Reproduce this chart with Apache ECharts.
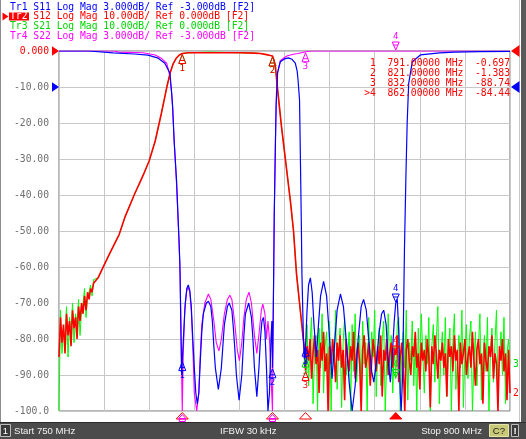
<!DOCTYPE html>
<html><head><meta charset="utf-8">
<script src="https://cdn.jsdelivr.net/npm/echarts/dist/echarts.min.js"></script>
<style>html,body{margin:0;padding:0;background:#fff;}#c{width:526px;height:439px;}</style>
</head><body><div id="c"></div>
<script>
// ---------- DATA ----------
function range(a, b, s) { const r = []; for (let v = a; v <= b + 1e-9; v += s) r.push(+v.toFixed(3)); return r; }

const startMHz = 750, stopMHz = 900;
const yTickLabels = ['0.000','-10.00','-20.00','-30.00','-40.00','-50.00','-60.00','-70.00','-80.00','-90.00','-100.0'];

const traceHeaders = [
  'Tr1 S11 Log Mag 3.000dB/ Ref -3.000dB [F2]',
  'Tr2 S12 Log Mag 10.00dB/ Ref 0.000dB [F2]',
  'Tr3 S21 Log Mag 10.00dB/ Ref 0.000dB [F2]',
  'Tr4 S22 Log Mag 3.000dB/ Ref -3.000dB [F2]'
];

const markerFreqs = [791, 821, 832, 862];
const markerReadouts = [-0.697, -1.383, -88.74, -84.44];
const activeMarker = 3;

// S12 / S21 sweep frequencies (MHz)
const transFreqs = [
  ...range(750, 762, 0.5),
  763,765,767,770,772,775,778,780,782,784,785,786,787,788,789,790,791,793,800,810,
  815,817,819,820,821,821.5,822,822.5,823,824,825,826,827,828,829,830,830.5,831,831.5,
  ...range(832, 900, 0.5)
];

// S12 (dB)
const s12Values = [
  -85,-74,-81,-76,-84,-73,-79,-75,-82,-72,-77,-74,-80,-71,-75,-70,-73,-68,-72,-67,-69,-66,-67,-64.5,-64,
  -63,-59.5,-56,-51,-46,-40,-34.5,-30.5,-25,-17.5,-13.5,-9.5,-6,-3.5,-2,-1.1,-0.697,-0.5,-0.5,-0.5,
  -0.6,-0.7,-1.0,-1.2,-1.383,-2.5,-4.5,-9,-13,-21,-28,-35,-42,-50,-62,-70,-74,-78,-82,
  -88.74,-82,-86,-80,-91,-84,-79,-87,-83,-95,
  -81,-86,-78,-89,-84,-100,-82,-87,-80,-85,
  -92,-81,-86,-79,-88,-83,-97,-80,-85,-89,
  -82,-86,-78,-91,-84,-81,-87,-100,-83,-79,
  -88,-85,-81,-93,-86,-80,-84,-89,-82,-87,
  -79,-96,-83,-86,-80,-90,-84,-81,-88,-83,
  -84.44,-79,-92,-85,-81,-87,-100,-83,-80,-86,
  -90,-82,-85,-78,-88,-84,-94,-81,-86,-83,
  -89,-80,-85,-99,-82,-87,-79,-84,-91,-83,
  -86,-81,-88,-84,-96,-80,-85,-82,-89,-79,
  -86,-83,-100,-81,-87,-84,-80,-90,-85,-82,
  -88,-78,-86,-93,-83,-80,-87,-84,-98,-81,
  -86,-89,-82,-85,-79,-91,-84,-87,-100,-82,
  -86,-80,-89,-84,-97,-83,-95
];

// S21 (dB)
const s21Values = [
  -100,-72,-84,-77,-80,-71,-85,-74,-78,-70,-81,-73,-76,-69,-79,-72,-70,-66,-74,-68,-67,-65,-68,-63.5,-64,
  -63,-59.5,-56,-51,-46,-40,-34.5,-30.5,-25,-17.5,-13.5,-9.5,-6,-3.5,-2,-1.1,-0.7,-0.5,-0.3,-0.5,
  -0.6,-0.7,-1.0,-1.2,-1.4,-2.5,-4.5,-9,-13,-21,-28,-35,-42,-50,-62,-70,-74,-78,-82,
  -85,-76,-93,-81,-74,-98,-84,-79,-100,-77,
  -88,-73,-95,-82,-78,-91,-75,-100,-80,-86,
  -72,-94,-83,-77,-99,-81,-74,-90,-85,-78,
  -100,-76,-89,-73,-92,-84,-79,-97,-75,-87,
  -81,-100,-74,-90,-78,-85,-72,-96,-83,-77,
  -93,-80,-75,-100,-86,-73,-89,-79,-95,-82,
  -91,-76,-74,-100,-84,-78,-88,-72,-97,-81,
  -86,-75,-93,-80,-100,-77,-89,-73,-84,-95,
  -79,-87,-74,-100,-82,-76,-92,-80,-71,-98,
  -85,-78,-90,-74,-96,-83,-77,-100,-81,-73,
  -94,-86,-79,-88,-72,-99,-84,-76,-91,-80,
  -75,-100,-87,-78,-93,-82,-73,-97,-85,-79,
  -89,-74,-100,-83,-77,-92,-81,-72,-95,-86,
  -78,-90,-74,-98,-84,-80,-87
];

// S11 [MHz, dB]
const s11Points = [
  [750,0],[760,0],[768,-0.15],[775,-0.25],[779.6,-0.35],[783,-0.6],[785.2,-1.02],[786.9,-1.86],
  [787.5,-3.6],[787.8,-4.65],[788.3,-7.5],[789.1,-10.8],[789.5,-13.2],[789.9,-15.6],[790.2,-17.7],
  [790.5,-22.5],[790.8,-27],[791,-25.8],[791.5,-23.4],[792,-21],[792.5,-19.8],[793,-19.5],[793.5,-19.95],
  [794,-21.3],[794.5,-24],[795,-26.4],[795.5,-28.5],[796,-29.4],[796.5,-28.5],[797,-25.8],[797.5,-23.4],
  [798,-21.9],[799,-21],[799.7,-20.85],[800.5,-21.3],[801,-22.5],[801.5,-24.6],[802,-26.4],[803,-28.2],
  [804,-26.4],[804.5,-24.6],[805,-22.8],[806,-21.3],[806.6,-21],[807.5,-21.6],[808,-23.1],[808.5,-24.9],
  [809,-27],[809.9,-29.1],[810.8,-27],[811.5,-23.7],[812,-21.9],[813.1,-21],[814,-22.2],[814.5,-24],
  [815,-26.4],[815.8,-28.8],[816.5,-26.4],[817,-24],[817.5,-22.5],[818,-22.2],[818.5,-23.4],[819,-26.4],
  [819.5,-30],[820,-28.5],[820.5,-24],[820.8,-22.5],[821,-26.4],[821.3,-21],[821.6,-13.5],[822,-7.5],
  [822.2,-4.65],[822.7,-1.8],[823.6,-0.9],[825,-0.66],[826.3,-0.57],[827.5,-0.69],[828.6,-1.02],
  [829.2,-1.65],[829.5,-2.4],[830,-4.08],[830.2,-7.44],[830.6,-14.4],[830.8,-18.6],[831.3,-24],
  [831.8,-26.4],[832,-24.6],[832.5,-21.6],[833,-19.5],[833.6,-18.9],[834.2,-20.1],[834.8,-22.8],
  [835.6,-25.5],[836.3,-22.8],[837,-20.4],[838,-19.2],[839,-20.4],[840,-24],[840.8,-27.3],[841.6,-24.6],
  [842.5,-21.6],[843.6,-20.25],[844.6,-21.3],[845.5,-24],[846.5,-27.6],[847.5,-30],[848.5,-27.9],
  [849.5,-24],[850.5,-21.3],[851.3,-20.7],[852.2,-21.6],[853,-24],[854,-26.7],[854.7,-27.6],[855.5,-26.1],
  [856.5,-23.4],[857.3,-21.9],[858,-21.6],[858.8,-22.8],[859.5,-25.8],[860.2,-27.6],[860.8,-25.5],
  [861.5,-22.5],[862,-21],[862.5,-20.7],[863,-23.4],[863.5,-28.5],[863.8,-30],[864.3,-27],[864.9,-16.5],
  [865.4,-10.2],[865.8,-6],[866.3,-2.7],[867.5,-0.9],[870.2,-0.33],[876.6,-0.15],[881.6,-0.09],
  [890,-0.05],[900,-0.03]
];

// S22 [MHz, dB]
const s22Points = [
  [750,0],[768,0],[770,-0.09],[778,-0.15],[782,-0.33],[784,-0.6],[785.8,-1.02],[786.5,-1.65],[787,-2.4],
  [787.5,-3.6],[787.8,-4.8],[788.3,-7.5],[789.1,-11.1],[789.9,-15.9],[790.3,-18.6],[790.7,-25.5],[791,-30],
  [791.3,-25.5],[791.8,-21.6],[792.5,-19.95],[793,-19.7],[793.5,-20.1],[794,-21.6],[794.5,-24.6],[795,-28.5],
  [795.8,-30],[796.5,-28.5],[797,-25.2],[797.5,-22.8],[798.5,-21],[799.7,-20.25],[800.5,-20.7],[801.5,-22.5],
  [802.3,-24.3],[803.2,-25],[804,-24],[805,-21.9],[806,-20.7],[806.8,-20.35],[807.5,-20.7],[808.5,-22.8],
  [809.3,-24.9],[810,-25.8],[810.8,-24.3],[811.5,-22.2],[812.3,-20.7],[813.2,-20.1],[814,-21],[815,-23.7],
  [815.8,-25.2],[816.6,-23.4],[817.3,-21.6],[817.8,-21.1],[818.5,-21.9],[819,-24],[819.5,-22.5],[820,-24],
  [820.5,-27],[821,-30],[821.3,-21],[821.6,-13.5],[822,-7.2],[822.3,-3.6],[822.7,-1.8],[823.6,-0.81],
  [825,-0.54],[826,-0.39],[828,-0.27],[829.5,-0.21],[831,-0.12],[832,-0.06],[834,0],[900,0]
];

// ---------- SCALES ----------
const reflScale = 3, reflRef = -3, reflRefLine = -10;   // Tr1/Tr4: 3 dB/div, ref -3 dB on the -10 graticule line
const transScale = 10;                                   // Tr2/Tr3: 10 dB/div, ref 0 dB on top line
const toGrid = dB => reflRefLine + (dB - reflRef) * (transScale / reflScale);

const C = { s11:'#0000ff', s12:'#ff0000', s21:'#00ff00', s21t:'#00d800', s22:'#ff00ff' };
const MONO = '"DejaVu Sans Mono", monospace';

const s12Data = transFreqs.map((f,i)=>[f, s12Values[i]]);
const s21Data = transFreqs.map((f,i)=>[f, s21Values[i]]);
const s11Data = s11Points.map(p=>[p[0], toGrid(p[1])]);
const s22Data = s22Points.map(p=>[p[0], toGrid(p[1])]);

function valueAt(data, f) {
  for (let k = 0; k < data.length; k++) if (Math.abs(data[k][0]-f) < 1e-6) return data[k][1];
  for (let k = 0; k < data.length-1; k++) if (data[k][0] <= f && data[k+1][0] >= f) {
    const t = (f-data[k][0])/(data[k+1][0]-data[k][0]); return data[k][1] + t*(data[k+1][1]-data[k][1]);
  }
  return null;
}

const lineSeries = (name, data, color, z, width) => ({
  name, type:'line', data, symbol:'none', showSymbol:false, clip:true, z,
  lineStyle:{color, width}, itemStyle:{color}, animation:false, silent:true
});

const chart = echarts.init(document.getElementById('c'), null, {renderer:'canvas'});
chart.setOption({
  animation:false,
  backgroundColor:'#ffffff',
  grid:{left:59, top:51, right:16, bottom:28, show:true, borderColor:'#6e6e6e', borderWidth:1, backgroundColor:'#ffffff'},
  xAxis:{type:'value', min:startMHz, max:stopMHz, interval:15,
    axisLabel:{show:false}, axisTick:{show:false}, axisLine:{show:false},
    splitLine:{show:true, lineStyle:{color:'#c8c8c8', width:1}}},
  yAxis:{type:'value', min:-100, max:0, interval:10,
    axisTick:{show:false}, axisLine:{show:false},
    splitLine:{show:true, lineStyle:{color:'#c8c8c8', width:1}},
    axisLabel:{margin:10, fontFamily:MONO, fontSize:9.7, color:'#6e6e6e',
      formatter:v=>{ const s = yTickLabels[Math.round(-v/10)]; return v===0 ? '{r|'+s+'}' : s; },
      rich:{r:{color:'#ff0000', fontFamily:MONO, fontSize:9.7}}}},
  series:[
    lineSeries('S22', s22Data, C.s22, 2, 1.1),
    lineSeries('S21', s21Data, C.s21, 3, 1.0),
    lineSeries('S12', s12Data, C.s12, 4, 1.6),
    lineSeries('S11', s11Data, C.s11, 5, 1.2)
  ]
});

// ---------- OVERLAYS ----------
const px = (f,v) => chart.convertToPixel({gridIndex:0}, [f,v]);
const g = [];
const txt = (text, x, y, color, opts={}) => g.push({type:'text', x, y, silent:true, z:opts.z||50, style:{
  text, fill:color, font:(opts.font||('9.7px '+MONO)), textAlign:opts.align||'left',
  textVerticalAlign:opts.valign||'middle', verticalAlign:opts.valign||'middle'}});
const poly = (points, fill, stroke, z=40) => g.push({type:'polygon', silent:true, z, shape:{points},
  style:{fill:fill||'none', stroke:stroke||'none', lineWidth:1}});
const rect = (x,y,w,h,fill,stroke,z=30) => g.push({type:'rect', silent:true, z, shape:{x,y,width:w,height:h},
  style:{fill, stroke:stroke||'none', lineWidth:1}});
const line = (x1,y1,x2,y2,stroke,w=1,z=40) => g.push({type:'line', silent:true, z, shape:{x1,y1,x2,y2},
  style:{stroke, lineWidth:w}});

const [plotL, plotTop] = px(startMHz, 0);
const [plotR, plotBot] = px(stopMHz, -100);

// header
const headerY = [7.2, 16.8, 26.6, 36.4];
const headerColors = [C.s11, C.s12, C.s21t, C.s22];
traceHeaders.forEach((h,i)=>{
  if (i === 1) {
    rect(9, 12.5, 20, 8, '#ff0000', null, 45);
    txt('   ' + h.slice(3), 10, headerY[i], headerColors[i]);
    txt(h.slice(0,3), 10, headerY[i], '#ffffff', {z:55});
    poly([[2.5,12.5],[8.5,16.5],[2.5,20.5]], '#ff0000', null, 45);
  } else txt(h, 10, headerY[i], headerColors[i]);
});

// reference-level arrows
const y0 = px(startMHz, 0)[1], y10 = px(startMHz, reflRefLine)[1];
poly([[52,y0-4.7],[59,y0],[52,y0+4.7]], '#ff0000');
poly([[52,y10-4.7],[59,y10],[52,y10+4.7]], '#0000ff');
poly([[519.5,y10-6],[511,y10],[519.5,y10+6]], '#0000ff');
poly([[519.5,y0-6],[511,y0],[519.5,y0+6]], '#ff0000');

// marker table
markerFreqs.forEach((f,i)=>{
  const v = markerReadouts[i];
  const vs = Math.abs(v) < 10 ? v.toFixed(3) : v.toFixed(2);
  const s = (i===activeMarker?'>':' ') + (i+1) + '  ' + f.toFixed(5) + ' MHz  ' + vs;
  txt(s, 510, 63.3 + i*10, '#ff0000', {align:'right'});
});

// trace markers
function marker(f, v, color, label, above) {
  if (v === null || v <= -99.9) return;
  const [x,y] = px(f,v);
  if (above) {
    poly([[x,y-1],[x-3.5,y-9],[x+3.5,y-9]], 'none', color, 60);
    line(x-2.2,y-6,x+2.2,y-6,color,1,60);
    txt(label, x, y-9.5, color, {align:'center', valign:'bottom', font:'9px '+MONO, z:60});
  } else {
    poly([[x,y+1],[x-3.5,y+10],[x+3.5,y+10]], 'none', color, 60);
    line(x-2.2,y+7,x+2.2,y+7,color,1,60);
    txt(label, x, y+10.5, color, {align:'center', valign:'top', font:'9px '+MONO, z:60});
  }
}
const markerTraces = [[s21Data, C.s21t], [s22Data, C.s22], [s11Data, C.s11], [s12Data, C.s12]];
markerTraces.forEach(([data,color])=>{
  markerFreqs.forEach((f,i)=> marker(f, valueAt(data,f), color, String(i+1), i===activeMarker));
});

// marker position indicators under the plot
markerFreqs.forEach((f,i)=>{
  const x = px(f,-100)[0], yb = plotBot;
  if (i === activeMarker) {
    poly([[x,yb+1.5],[x-6,yb+8],[x+6,yb+8]], '#ff0000', '#ff0000');
  } else {
    poly([[x,yb+1.5],[x-6,yb+8],[x+6,yb+8]], 'none', '#ff0000');
    if (valueAt(s22Data,f) <= -99.9) {
      poly([[x,yb+3.5],[x-3.5,yb+7.5],[x+3.5,yb+7.5]], 'none', C.s22, 41);
      rect(x-3, yb+8, 6, 2.5, 'none', C.s22, 41);
    }
  }
});

// trace end labels at right edge
const lastS21 = s21Data[s21Data.length-1], lastS12 = s12Data[s12Data.length-1];
txt('3', plotR+3, px(lastS21[0], lastS21[1])[1], C.s21t, {font:'9.7px '+MONO});
txt('2', plotR+3, px(lastS12[0], lastS12[1])[1], C.s12, {font:'9.7px '+MONO});

// window borders
line(0.5, 0, 0.5, 422, '#8c8c8c', 1, 20);
line(519.5, 0, 519.5, 422, '#c8c8c8', 1, 20);
rect(521, 0, 5, 439, '#5a5a5a', null, 20);

// status bar
const SANS = '"Liberation Sans", Arial, sans-serif';
rect(0, 422, 526, 17, '#4b4b4b', null, 25);
line(0, 422.5, 526, 422.5, '#2e2e2e', 1, 26);
rect(0.5, 424.5, 10, 12, '#3a3a3a', '#bdbdbd', 27);
txt('1', 5.5, 431, '#ffffff', {align:'center', font:'9.5px '+SANS});
txt('Start 750 MHz', 14, 431, '#f2f2f2', {font:'9.6px '+SANS});
txt('IFBW 30 kHz', 220, 431, '#f2f2f2', {font:'9.6px '+SANS});
txt('Stop 900 MHz', 482, 431, '#f2f2f2', {align:'right', font:'9.6px '+SANS});
rect(489.5, 424.5, 19, 12, '#c8c878', '#e4e4a8', 27);
txt('C?', 499, 431, '#1e1e1e', {align:'center', font:'9.6px '+SANS});
rect(511.5, 424.5, 7, 12, '#3a3a3a', '#bdbdbd', 27);
txt('!', 515, 431, '#ffffff', {align:'center', font:'bold 9.6px '+SANS});

chart.setOption({graphic: g});
</script></body></html>
